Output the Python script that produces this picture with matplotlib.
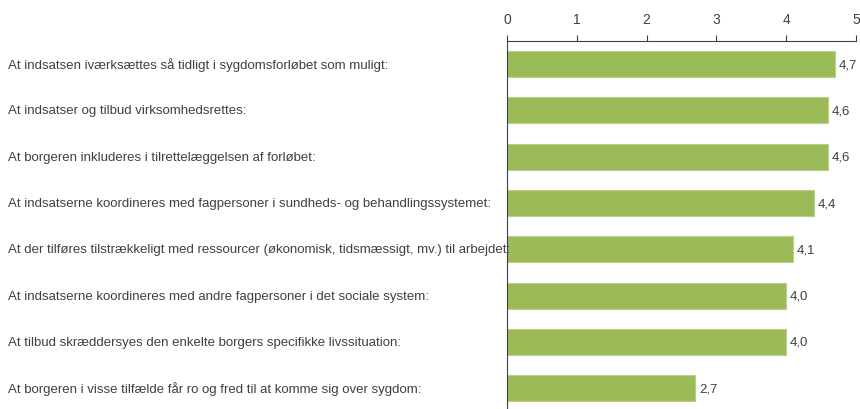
import matplotlib
matplotlib.use("Agg")
import matplotlib.pyplot as plt

categories = [
    "At indsatsen iværksættes så tidligt i sygdomsforløbet som muligt:",
    "At indsatser og tilbud virksomhedsrettes:",
    "At borgeren inkluderes i tilrettelæggelsen af forløbet:",
    "At indsatserne koordineres med fagpersoner i sundheds- og behandlingssystemet:",
    "At der tilføres tilstrækkeligt med ressourcer (økonomisk, tidsmæssigt, mv.) til arbejdet:",
    "At indsatserne koordineres med andre fagpersoner i det sociale system:",
    "At tilbud skræddersyes den enkelte borgers specifikke livssituation:",
    "At borgeren i visse tilfælde får ro og fred til at komme sig over sygdom:",
]
values = [4.7, 4.6, 4.6, 4.4, 4.1, 4.0, 4.0, 2.7]
value_labels = ["4,7", "4,6", "4,6", "4,4", "4,1", "4,0", "4,0", "2,7"]
xticks = [0, 1, 2, 3, 4, 5]

plt.rcParams['font.family'] = ['Liberation Sans', 'DejaVu Sans']
text_color = "#404040"

fig = plt.figure(figsize=(8.6, 4.1), dpi=100)
ax = fig.add_axes([507/860, 0.0, 349/860, 1 - 42/410])

y = list(range(len(categories)))
ax.barh(y, values, height=0.56, color="#9BBB59", edgecolor="#B9D08A", linewidth=0.8)
ax.set_xlim(0, 5)
ax.set_ylim(7.45, -0.5)

ax.xaxis.tick_top()
ax.set_xticks(xticks)
ax.set_xticklabels([str(t) for t in xticks], fontsize=10, color=text_color)
ax.tick_params(axis='x', direction='out', length=4, width=0.8, colors="#404040", pad=7)
ax.set_yticks([])
for s in ["right", "bottom"]:
    ax.spines[s].set_visible(False)
ax.spines["top"].set_color("#404040")
ax.spines["left"].set_color("#404040")

for yi, v, lab in zip(y, values, value_labels):
    ax.text(v + 0.05, yi, lab, va="center", ha="left", fontsize=9.5, color=text_color)

for yi, cat in zip(y, categories):
    fig.text(8/860, ax.transData.transform((0, yi))[1] / 410, cat,
             va="center", ha="left", fontsize=9.5, color=text_color)

fig.savefig("out.png", dpi=100)
